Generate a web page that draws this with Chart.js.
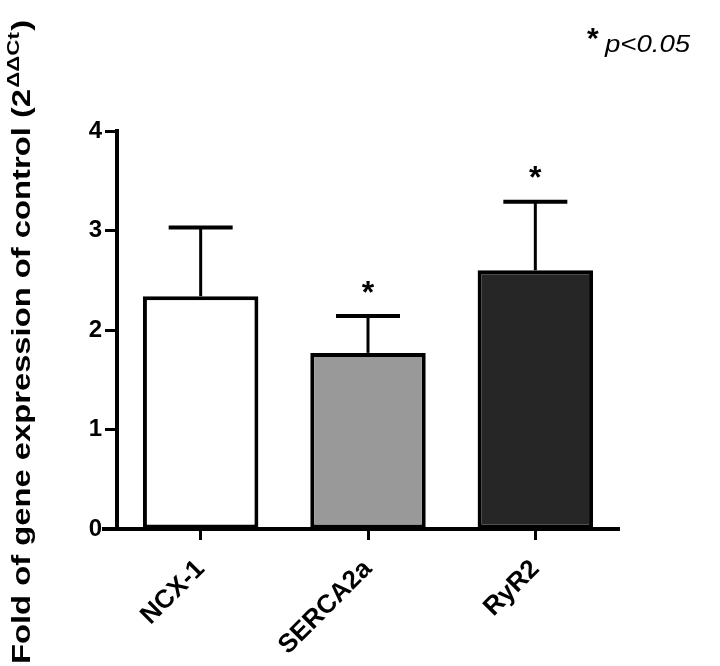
<!DOCTYPE html>
<html>
<head>
<meta charset="utf-8">
<script src="https://cdn.jsdelivr.net/npm/chart.js@4/dist/chart.umd.min.js"></script>
<style>
  html, body { margin: 0; padding: 0; background: #fff; }
  #wrap { width: 720px; height: 666px; position: relative; }
</style>
</head>
<body>
<div id="wrap"><canvas id="geneChart"></canvas></div>
<script>
// Chart data
const genes = ['NCX-1', 'SERCA2a', 'RyR2'];
const foldValues = [2.34, 1.77, 2.60];
const semValues = [0.69, 0.37, 0.69];
const significant = [false, true, true];
const barColors = ['#ffffff', '#999999', '#262626'];
const yTicks = [0, 1, 2, 3, 4];

const FONT = '"Liberation Sans", Arial, sans-serif';

// Upward-only error bars plus significance stars
const errorBarPlugin = {
  id: 'errorBars',
  afterDatasetsDraw(chart) {
    const ctx = chart.ctx;
    const meta = chart.getDatasetMeta(0);
    const yScale = chart.scales.y;
    ctx.save();
    ctx.strokeStyle = '#000';
    meta.data.forEach((bar, i) => {
      const top = yScale.getPixelForValue(foldValues[i]);
      const cap = yScale.getPixelForValue(foldValues[i] + semValues[i]);
      ctx.lineWidth = 3;
      ctx.beginPath();
      ctx.moveTo(bar.x, top);
      ctx.lineTo(bar.x, cap);
      ctx.stroke();
      ctx.lineWidth = 4;
      ctx.beginPath();
      ctx.moveTo(bar.x - 32, cap);
      ctx.lineTo(bar.x + 32, cap);
      ctx.stroke();
      if (significant[i]) {
        ctx.fillStyle = '#000';
        ctx.font = 'bold 32px ' + FONT;
        ctx.textAlign = 'center';
        ctx.textBaseline = 'middle';
        ctx.fillText('*', bar.x, cap - 22);
      }
    });
    ctx.restore();
  }
};

// Axis title with superscript, x-axis stub and the p-value note
const decorPlugin = {
  id: 'decor',
  afterDraw(chart) {
    const ctx = chart.ctx;
    const area = chart.chartArea;
    ctx.save();
    // x axis line extends a little left of the y axis
    ctx.strokeStyle = '#000';
    ctx.lineWidth = 4;
    ctx.beginPath();
    ctx.moveTo(area.left - 15, area.bottom);
    ctx.lineTo(area.left, area.bottom);
    ctx.stroke();

    // y axis title (stretched along its baseline like the original)
    ctx.translate(30, 664);
    ctx.rotate(-Math.PI / 2);
    ctx.fillStyle = '#000';
    ctx.textAlign = 'left';
    ctx.textBaseline = 'alphabetic';
    ctx.font = 'bold 25px ' + FONT;
    const main = 'Fold of gene expression of control (2';
    const stretch = 575 / ctx.measureText(main).width;
    ctx.scale(stretch, 1);
    ctx.fillText(main, 0, 0);
    let w = ctx.measureText(main).width;
    ctx.font = 'bold 17px ' + FONT;
    ctx.fillText('ΔΔCt', w + 1, -11);
    w += ctx.measureText('ΔΔCt').width + 2;
    ctx.font = 'bold 25px ' + FONT;
    ctx.fillText(')', w, 0);
    ctx.restore();

    // significance note
    ctx.save();
    ctx.fillStyle = '#000';
    ctx.textBaseline = 'alphabetic';
    ctx.textAlign = 'left';
    ctx.font = 'bold 30px ' + FONT;
    ctx.fillText('*', 587, 48);
    ctx.font = 'italic 24px ' + FONT;
    ctx.translate(605, 52);
    ctx.scale(1.15, 1);
    ctx.fillText('p<0.05', 0, 0);
    ctx.restore();
  }
};

new Chart(document.getElementById('geneChart'), {
  type: 'bar',
  data: {
    labels: genes,
    datasets: [{
      data: foldValues,
      backgroundColor: barColors,
      borderColor: '#000',
      borderWidth: 4,
      borderSkipped: false,
      barPercentage: 0.69,
      categoryPercentage: 1.0
    }]
  },
  options: {
    responsive: true,
    maintainAspectRatio: false,
    animation: false,
    layout: { padding: { top: 131, right: 101, left: 0, bottom: 0 } },
    plugins: {
      legend: { display: false },
      tooltip: { enabled: false }
    },
    scales: {
      x: {
        offset: true,
        afterFit(scale) { scale.height = 137; },
        grid: {
          display: true,
          drawOnChartArea: false,
          offset: false,
          tickLength: 11,
          tickWidth: 3,
          tickColor: '#000'
        },
        border: { display: true, color: '#000', width: 4 },
        ticks: {
          color: '#000',
          minRotation: 45,
          maxRotation: 45,
          padding: 14,
          font: { family: FONT, size: 26, weight: 'bold' }
        }
      },
      y: {
        min: yTicks[0],
        max: yTicks[yTicks.length - 1],
        afterFit(scale) { scale.width = 117; },
        afterBuildTicks(scale) { scale.ticks = yTicks.map(v => ({ value: v })); },
        grid: {
          display: true,
          drawOnChartArea: false,
          tickLength: 12,
          tickWidth: 3,
          tickColor: '#000'
        },
        border: { display: true, color: '#000', width: 4 },
        ticks: {
          color: '#000',
          padding: 3,
          font: { family: FONT, size: 24, weight: 'bold' }
        }
      }
    }
  },
  plugins: [errorBarPlugin, decorPlugin]
});
</script>
</body>
</html>
